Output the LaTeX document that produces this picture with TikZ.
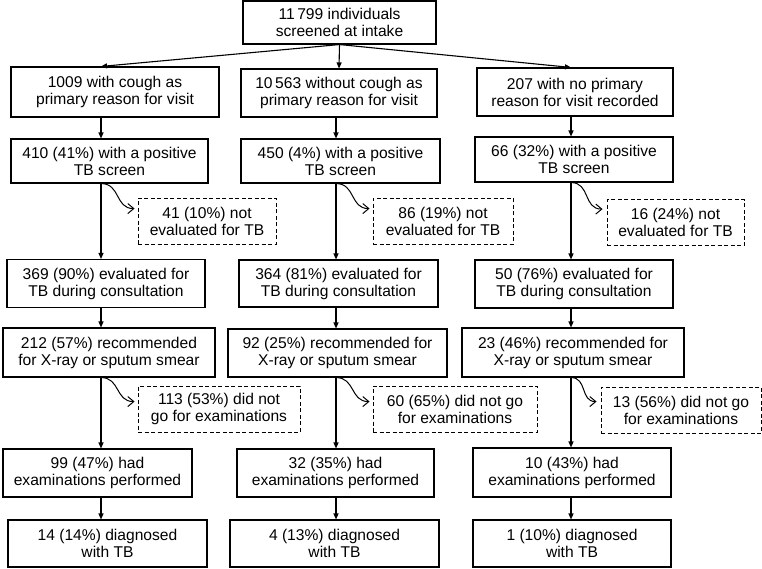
\documentclass[tikz,border=0pt]{standalone}
\usepackage{fontspec}
\setmainfont{Liberation Sans}
\usepackage{tikz}
\usetikzlibrary{arrows.meta}

\begin{document}
\begin{tikzpicture}[
    x=1pt, y=-1pt,
    box/.style={rectangle, draw=black, line width=1.1pt, minimum height=48pt, inner sep=0pt, align=center, font=\fontsize{15.6}{17}\selectfont},
    drop/.style={box, line width=0.9pt, dash pattern=on 4pt off 2.5pt, minimum height=46pt},
    arrow/.style={-{Triangle[length=6pt,width=5pt]}, line width=1.1pt},
    curve/.style={-{Straight Barb[length=6pt,width=10pt]}, line width=1pt}
]
\useasboundingbox (0,0) rectangle (762,568);

\coordinate (c1) at (101,0);
\coordinate (c2) at (336,0);
\coordinate (c3) at (571,0);

\node[box, minimum width=193pt, minimum height=43pt] (intake) at (339.5,22.5) {11\,799 individuals\\screened at intake};

\node[box, minimum width=208pt, minimum height=50pt] (cough) at (115,92) {1009 with cough as\\primary reason for visit};
\node[box, minimum width=196pt] (nocough) at (339,93) {10\,563 without cough as\\primary reason for visit};
\node[box, minimum width=196pt] (noreason) at (575,92) {207 with no primary\\reason for visit recorded};

\node[box, minimum width=197pt, minimum height=44pt] (pos1) at (109.5,161) {410 (41\%) with a positive\\TB screen};
\node[box, minimum width=199pt, minimum height=44pt] (pos2) at (340.5,161) {450 (4\%) with a positive\\TB screen};
\node[box, minimum width=198pt, minimum height=45pt] (pos3) at (574,159.5) {66 (32\%) with a positive\\TB screen};

\node[drop, minimum width=138pt] (noeval1) at (207,221) {41 (10\%) not\\evaluated for TB};
\node[drop, minimum width=140pt] (noeval2) at (443,221) {86 (19\%) not\\evaluated for TB};
\node[drop, minimum width=137pt] (noeval3) at (675.5,222.5) {16 (24\%) not\\evaluated for TB};

\node[box, minimum width=198pt] (eval1) at (106,283.5) {369 (90\%) evaluated for\\TB during consultation};
\node[box, minimum width=199pt, minimum height=47pt] (eval2) at (338.5,283.5) {364 (81\%) evaluated for\\TB during consultation};
\node[box, minimum width=198pt] (eval3) at (574,284) {50 (76\%) evaluated for\\TB during consultation};

\node[box, minimum width=212pt, minimum height=49pt] (rec1) at (109,352.5) {212 (57\%) recommended\\for X-ray or sputum smear};
\node[box, minimum width=219pt] (rec2) at (337.5,353) {92 (25\%) recommended for\\X-ray or sputum smear};
\node[box, minimum width=222pt, minimum height=49pt] (rec3) at (573,352.5) {23 (46\%) recommended for\\X-ray or sputum smear};

\node[drop, minimum width=162pt] (nogo1) at (219,409) {113 (53\%) did not\\go for examinations};
\node[drop, minimum width=164pt] (nogo2) at (455,409) {60 (65\%) did not go\\for examinations};
\node[drop, minimum width=160pt] (nogo3) at (681,410) {13 (56\%) did not go\\for examinations};

\node[box, minimum width=189pt] (exam1) at (97.5,473) {99 (47\%) had\\examinations performed};
\node[box, minimum width=197pt] (exam2) at (335.5,473) {32 (35\%) had\\examinations performed};
\node[box, minimum width=198pt, minimum height=49pt] (exam3) at (572,472.5) {10 (43\%) had\\examinations performed};

\node[box, minimum width=199pt, minimum height=47pt] (tb1) at (107.5,543.5) {14 (14\%) diagnosed\\with TB};
\node[box, minimum width=209pt, minimum height=47pt] (tb2) at (334.5,543.5) {4 (13\%) diagnosed\\with TB};
\node[box, minimum width=198pt, minimum height=47pt] (tb3) at (572,543.5) {1 (10\%) diagnosed\\with TB};

\draw[arrow] (intake.south) -- (cough.north -| c1);
\draw[arrow] (intake.south) -- (nocough.north);
\draw[arrow] (intake.south) -- (noreason.north -| c3);

\draw[arrow] (cough.south -| c1) -- (pos1.north -| c1);
\draw[arrow] (pos1.south -| c1) -- (eval1.north -| c1);
\draw[arrow] (eval1.south -| c1) -- (rec1.north -| c1);
\draw[arrow] (rec1.south -| c1) -- (exam1.north -| c1);
\draw[arrow] (exam1.south -| c1) -- (tb1.north -| c1);

\draw[arrow] (nocough.south -| c2) -- (pos2.north -| c2);
\draw[arrow] (pos2.south -| c2) -- (eval2.north -| c2);
\draw[arrow] (eval2.south -| c2) -- (rec2.north -| c2);
\draw[arrow] (rec2.south -| c2) -- (exam2.north -| c2);
\draw[arrow] (exam2.south -| c2) -- (tb2.north -| c2);

\draw[arrow] (noreason.south -| c3) -- (pos3.north -| c3);
\draw[arrow] (pos3.south -| c3) -- (eval3.north -| c3);
\draw[arrow] (eval3.south -| c3) -- (rec3.north -| c3);
\draw[arrow] (rec3.south -| c3) -- (exam3.north -| c3);
\draw[arrow] (exam3.south -| c3) -- (tb3.north -| c3);

\draw[curve] (pos1.south -| c1) to[out=0, in=180, looseness=1.2] ([xshift=-3pt, yshift=-11pt]noeval1.north west);
\draw[curve] (pos2.south -| c2) to[out=0, in=180, looseness=1.2] ([xshift=-3pt, yshift=-11pt]noeval2.north west);
\draw[curve] (pos3.south -| c3) to[out=0, in=180, looseness=1.2] ([xshift=-4pt, yshift=-10pt]noeval3.north west);
\draw[curve] (rec1.south -| c1) to[out=0, in=180, looseness=1.2] ([xshift=-3pt, yshift=-16pt]nogo1.north west);
\draw[curve] (rec2.south -| c2) to[out=0, in=180, looseness=1.2] ([xshift=-3pt, yshift=-16pt]nogo2.north west);
\draw[curve] (rec3.south -| c3) to[out=0, in=180, looseness=1.2] ([xshift=-4pt, yshift=-15pt]nogo3.north west);

\end{tikzpicture}
\end{document}
